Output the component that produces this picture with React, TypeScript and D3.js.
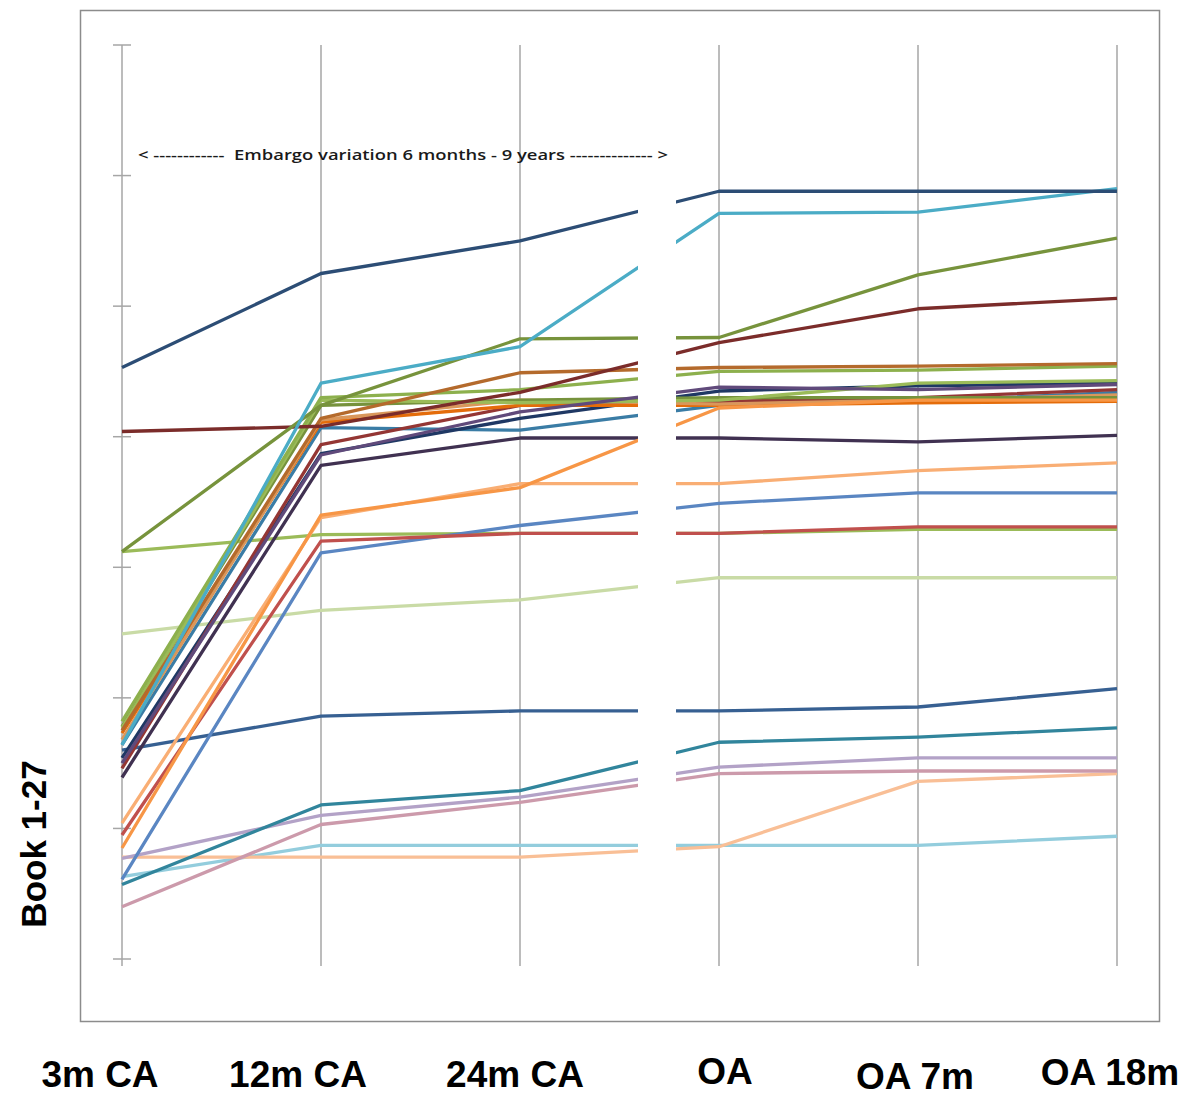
import React from "react";
import * as d3 from "d3";

const categories = ["3m CA", "12m CA", "24m CA", "OA", "OA 7m", "OA 18m"];
const yTicks = [0, 10, 20, 30, 40, 50, 60, 70];

const book01 = [45.3, 52.5, 55.0, 58.8, 58.8, 58.8];
const book02 = [16.4, 44.1, 46.9, 57.1, 57.2, 59.0];
const book03 = [31.2, 42.4, 47.5, 47.6, 52.4, 55.2];
const book04 = [40.4, 40.8, 43.4, 47.2, 49.8, 50.6];
const book05 = [31.2, 32.5, 32.6, 32.6, 32.9, 32.9];
const book06 = [24.9, 26.7, 27.5, 29.2, 29.2, 29.2];
const book07 = [16.0, 18.6, 19.0, 19.0, 19.3, 20.7];
const book08 = [5.7, 11.8, 12.9, 16.6, 17.0, 17.7];
const book09 = [7.7, 11.0, 12.4, 14.7, 15.4, 15.4];
const book10 = [4.0, 10.3, 12.0, 14.2, 14.4, 14.4];
const book11 = [7.8, 7.8, 7.8, 8.6, 13.6, 14.2];
const book12 = [6.3, 8.7, 8.7, 8.7, 8.7, 9.4];
const book13 = [6.1, 31.1, 33.2, 34.9, 35.7, 35.7];
const book14 = [10.4, 33.8, 36.4, 36.4, 37.4, 38.0];
const book15 = [8.5, 34.0, 36.1, 42.2, 42.8, 42.8];
const book16 = [9.5, 32.0, 32.6, 32.6, 33.1, 33.1];
const book17 = [13.9, 37.8, 39.9, 39.9, 39.6, 40.1];
const book18 = [15.0, 38.6, 41.9, 43.8, 43.6, 44.0];
const book19 = [17.5, 41.4, 44.9, 45.3, 45.4, 45.6];
const book20 = [18.2, 43.0, 43.6, 45.0, 45.1, 45.4];
const book21 = [17.8, 42.4, 42.8, 43.0, 43.0, 43.0];
const book22 = [16.4, 40.7, 40.5, 42.4, 42.7, 43.4];
const book23 = [15.4, 38.7, 41.4, 43.5, 43.9, 44.1];
const book24 = [14.6, 39.4, 42.4, 42.7, 43.0, 43.6];
const book25 = [17.3, 41.1, 42.4, 42.4, 42.6, 42.7];
const book26 = [16.8, 41.3, 42.8, 42.5, 42.8, 43.2];
const book27 = [17.7, 42.8, 42.6, 42.8, 44.1, 44.3];

const seriesValues = [
  book06, book05, book12, book11, book10, book09, book08, book07, book13,
  book14, book16, book17, book22, book23, book24, book25, book26, book21,
  book27, book20, book18, book15, book19, book04, book03, book02, book01,
];
const seriesColors = [
  "#c9dba6", "#9bbb59", "#93cddd", "#f9bf96", "#cc9aab", "#b3a2c7", "#31859c", "#376092", "#5a86c2",
  "#f9ae74", "#c0504d", "#403151", "#3a7ca5", "#1f3864", "#943634", "#e46c0a", "#d9975b", "#76923c",
  "#9bbb59", "#8db04d", "#604a7b", "#f79646", "#b46a2c", "#7b2c2a", "#77933c", "#4bacc6", "#2c4d75",
];

const xLabels = ["3m CA", "12m CA", "24m CA", "OA", "OA 7m", "OA 18m"];
const xLabelPos = [100, 298, 515, 725, 915, 1110];
const xLabelBase = [1087, 1087, 1087, 1084, 1089, 1085];

export default function App() {
  const x = d3.scalePoint<string>().domain(categories).range([122, 1117]);
  const y = d3.scaleLinear().domain([0, 70]).range([959, 45]);
  const line = d3
    .line<number>()
    .x((_, i) => x(categories[i]) as number)
    .y((d) => y(d));

  return (
    <svg
      width={1192}
      height={1096}
      style={{ position: "absolute", left: 0, top: 0, background: "#fff" }}
    >
      <rect x={0} y={0} width={1192} height={1096} fill="#fff" />
      <rect x={80.5} y={10.5} width={1079} height={1011} fill="none" stroke="#8c8c8c" strokeWidth={1.5} />
      {categories.map((c) => (
        <line key={c} x1={x(c)} x2={x(c)} y1={y(70)} y2={966} stroke="#a6a6a6" strokeWidth={1.5} />
      ))}
      {yTicks.map((t) => (
        <line key={t} x1={113} x2={131} y1={y(t)} y2={y(t)} stroke="#a6a6a6" strokeWidth={1.5} />
      ))}
      {seriesValues.map((vals, i) => (
        <path
          key={i}
          d={line(vals) || ""}
          fill="none"
          stroke={seriesColors[i]}
          strokeWidth={3.3}
          strokeLinejoin="round"
        />
      ))}
      <rect x={638} y={165} width={38} height={713} fill="#fff" />
      <text
        x={138}
        y={160}
        fontFamily="'Open Sans', sans-serif"
        fontSize={15}
        fontWeight={600}
        fill="#1a1a1a"
        textLength={530}
        lengthAdjust="spacingAndGlyphs"
        xmlSpace="preserve"
      >
        {"< ------------  Embargo variation 6 months - 9 years -------------- >"}
      </text>
      {xLabels.map((l, i) => (
        <text
          key={l}
          x={xLabelPos[i]}
          y={xLabelBase[i]}
          textAnchor="middle"
          fontFamily="'Liberation Sans', Arial, sans-serif"
          fontWeight="bold"
          fontSize={37}
          fill="#000"
        >
          {l}
        </text>
      ))}
      <text
        transform="translate(46,844) rotate(-90)"
        textAnchor="middle"
        fontFamily="'Liberation Sans', Arial, sans-serif"
        fontWeight="bold"
        fontSize={35}
        fill="#000"
      >
        Book 1-27
      </text>
    </svg>
  );
}
